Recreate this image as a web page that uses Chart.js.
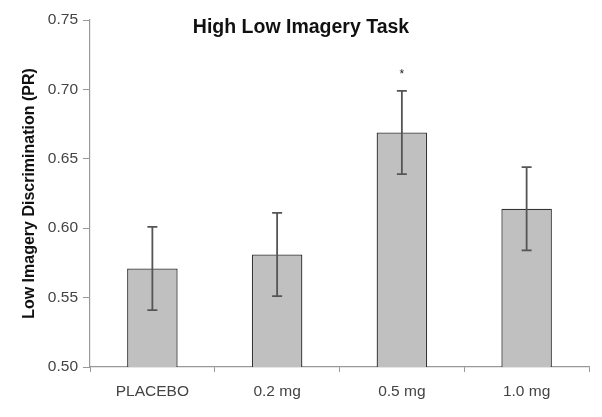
<!DOCTYPE html>
<html>
<head>
<meta charset="utf-8">
<script src="https://cdn.jsdelivr.net/npm/chart.js@4.4.1/dist/chart.umd.min.js"></script>
<style>
  html, body { margin: 0; padding: 0; background: #fff; }
  #wrap { width: 602px; height: 417px; }
</style>
</head>
<body>
<div id="wrap"><canvas id="chart"></canvas></div>
<script>
// Data
const doses = ["PLACEBO", "0.2 mg", "0.5 mg", "1.0 mg"];
const meanPR = [0.571, 0.581, 0.669, 0.614];
const semPR = [0.030, 0.030, 0.030, 0.030];
const significance = ["", "", "*", ""];
const yTicks = [0.50, 0.55, 0.60, 0.65, 0.70, 0.75];

const FONT = "'Liberation Sans', Arial, sans-serif";

// Error bars + significance marks, positioned through the scales
const errorBars = {
  id: "errorBars",
  afterDatasetsDraw(chart) {
    const ctx = chart.ctx;
    const x = chart.scales.x;
    const y = chart.scales.y;
    ctx.save();
    ctx.strokeStyle = "#555";
    ctx.lineWidth = 1.8;
    meanPR.forEach((m, i) => {
      const cx = x.getPixelForValue(i);
      const top = y.getPixelForValue(m + semPR[i]);
      const bot = y.getPixelForValue(m - semPR[i]);
      ctx.beginPath();
      ctx.moveTo(cx, top); ctx.lineTo(cx, bot);
      ctx.moveTo(cx - 5, top); ctx.lineTo(cx + 5, top);
      ctx.moveTo(cx - 5, bot); ctx.lineTo(cx + 5, bot);
      ctx.stroke();
      if (significance[i]) {
        ctx.fillStyle = "#222";
        ctx.font = "12px " + FONT;
        ctx.textAlign = "center";
        ctx.textBaseline = "middle";
        ctx.fillText(significance[i], cx, top - 16);
      }
    });
    ctx.restore();
  }
};

// Title sits inside the plot, centred on the figure
const plotTitle = {
  id: "plotTitle",
  afterDraw(chart) {
    const ctx = chart.ctx;
    ctx.save();
    ctx.fillStyle = "#111";
    ctx.font = "bold 19.5px " + FONT;
    ctx.textAlign = "center";
    ctx.textBaseline = "middle";
    ctx.fillText("High Low Imagery Task", chart.width / 2, 27.5);
    ctx.restore();
  }
};

new Chart(document.getElementById("chart"), {
  type: "bar",
  data: {
    labels: doses,
    datasets: [{
      data: meanPR,
      backgroundColor: "#c0c0c0",
      borderColor: "#333",
      borderWidth: 1.3,
      categoryPercentage: 1,
      barPercentage: 0.405
    }]
  },
  options: {
    responsive: true,
    maintainAspectRatio: false,
    animation: false,
    layout: { padding: { top: 20, right: 13, left: 0, bottom: 0 } },
    plugins: {
      legend: { display: false },
      tooltip: { enabled: false }
    },
    scales: {
      x: {
        grid: {
          offset: true,
          drawOnChartArea: false,
          tickLength: 5,
          color: "#999"
        },
        border: { color: "#999", width: 1.2 },
        ticks: {
          color: "#444",
          padding: 10,
          font: { family: FONT, size: 15.5 }
        },
        afterFit(scale) { scale.height = 50; }
      },
      y: {
        min: 0.50,
        max: 0.75,
        afterBuildTicks(scale) {
          scale.ticks = yTicks.map(v => ({ value: v }));
        },
        grid: {
          drawOnChartArea: false,
          tickLength: 7,
          color: "#999"
        },
        border: { color: "#999", width: 1.2 },
        ticks: {
          color: "#444",
          padding: 5,
          font: { family: FONT, size: 15.5 },
          callback: v => v.toFixed(2)
        },
        title: {
          display: true,
          text: "Low Imagery Discrimination (PR)",
          color: "#111",
          padding: { top: 20, bottom: 0 },
          font: { family: FONT, size: 16, weight: "bold" }
        },
        afterFit(scale) { scale.width = 90; }
      }
    }
  },
  plugins: [errorBars, plotTitle]
});
</script>
</body>
</html>
